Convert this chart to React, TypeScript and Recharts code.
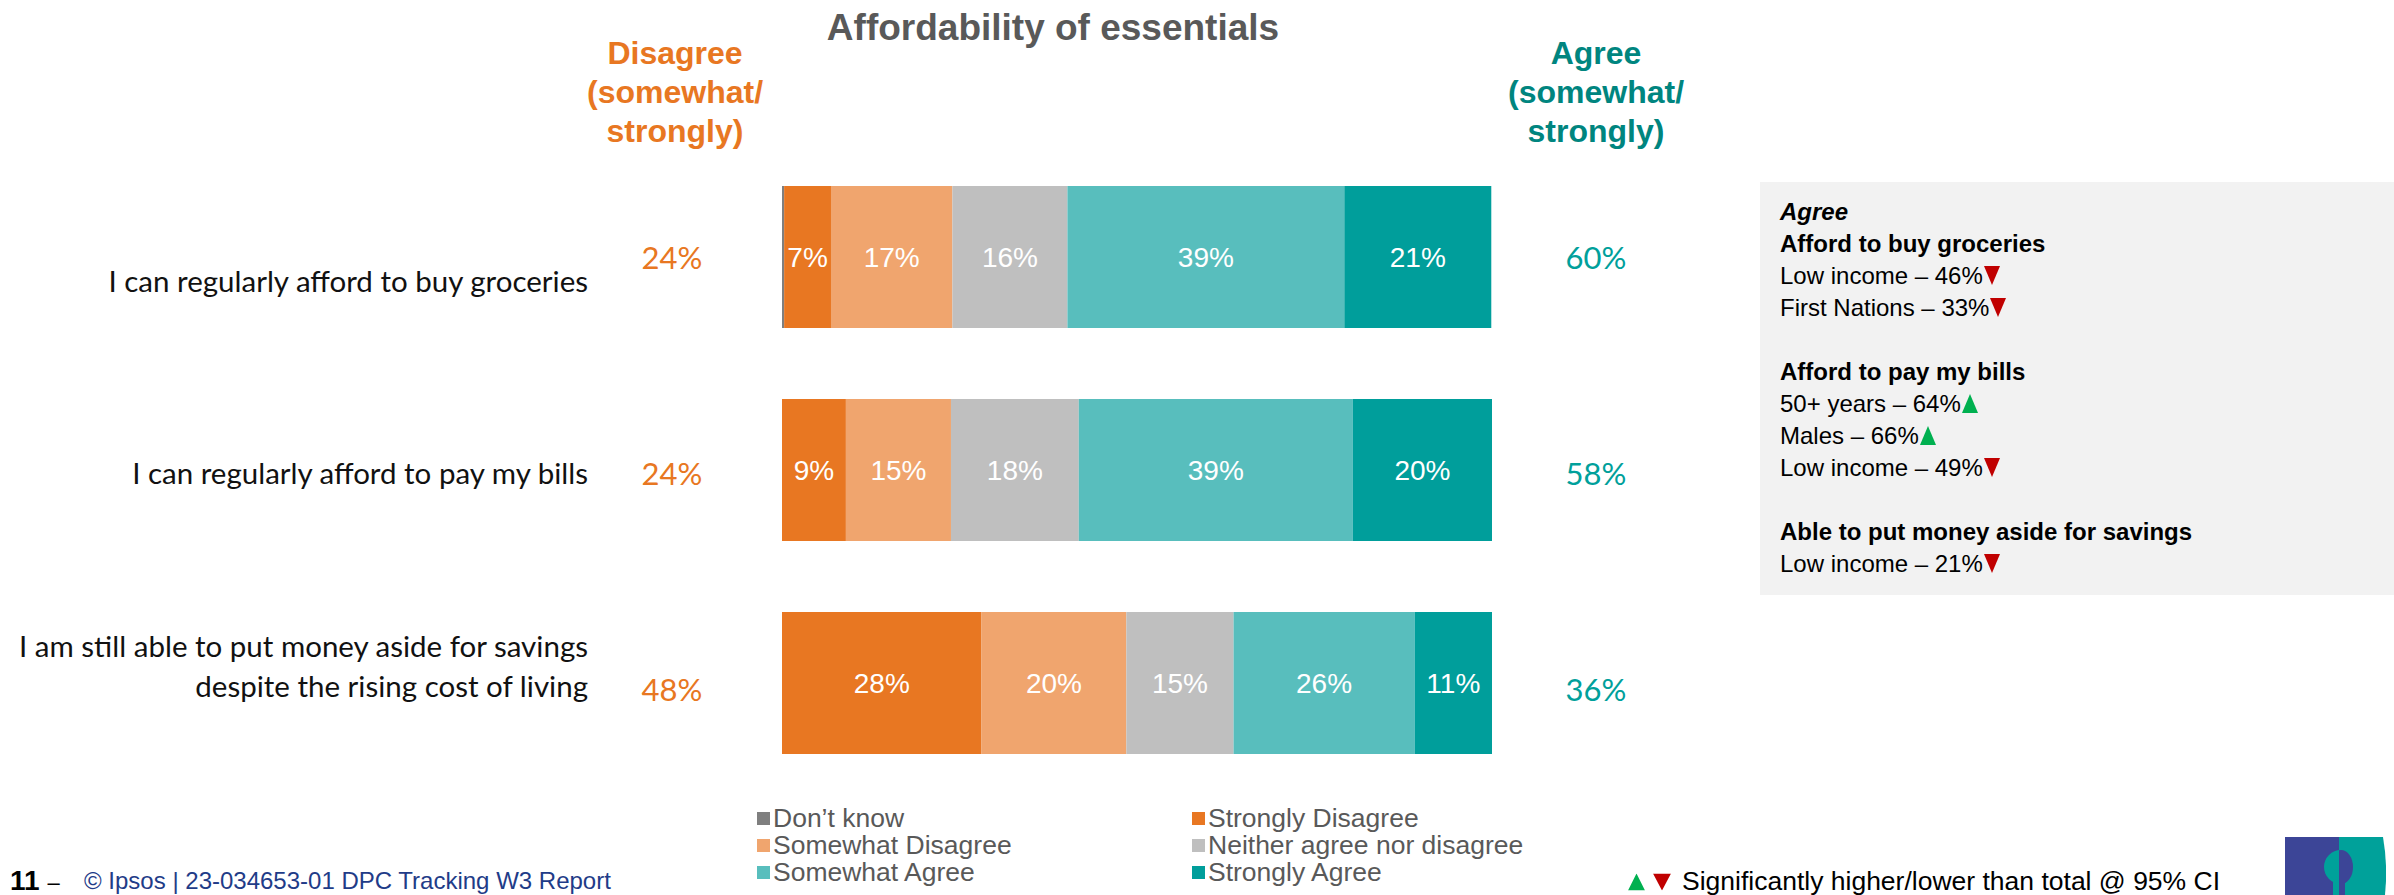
import { Bar, BarChart, LabelList, XAxis, YAxis } from "recharts";

// Statements (y categories), one line per array entry
const STATEMENTS: string[][] = [
  ["I can regularly afford to buy groceries"],
  ["I can regularly afford to pay my bills"],
  ["I am still able to put money aside for savings", "despite the rising cost of living"],
];

// Segment shares (%)
const DONT_KNOW = [0.3, 0, 0];
const STRONGLY_DISAGREE = [6.6, 9.0, 28.1];
const SOMEWHAT_DISAGREE = [17.1, 14.8, 20.4];
const NEITHER = [16.2, 18.0, 15.1];
const SOMEWHAT_AGREE = [39.0, 38.6, 25.5];
const STRONGLY_AGREE = [20.7, 19.6, 10.9];

// Nets as printed on the slide
const NET_DISAGREE = [24, 24, 48];
const NET_AGREE = [60, 58, 36];

const SERIES = [
  { key: "dk", name: "Don\u2019t know", color: "#7f7f7f", values: DONT_KNOW },
  { key: "sd", name: "Strongly Disagree", color: "#e87722", values: STRONGLY_DISAGREE },
  { key: "swd", name: "Somewhat Disagree", color: "#f0a56e", values: SOMEWHAT_DISAGREE },
  { key: "n", name: "Neither agree nor disagree", color: "#bfbfbf", values: NEITHER },
  { key: "swa", name: "Somewhat Agree", color: "#58bebd", values: SOMEWHAT_AGREE },
  { key: "sa", name: "Strongly Agree", color: "#009e9b", values: STRONGLY_AGREE },
];

type Sub = { label: string; value: number; dir: "up" | "down" };
const SUBGROUP_HEADS = ["Afford to buy groceries", "Afford to pay my bills", "Able to put money aside for savings"];
const SUBGROUPS: Sub[][] = [
  [
    { label: "Low income", value: 46, dir: "down" },
    { label: "First Nations", value: 33, dir: "down" },
  ],
  [
    { label: "50+ years", value: 64, dir: "up" },
    { label: "Males", value: 66, dir: "up" },
    { label: "Low income", value: 49, dir: "down" },
  ],
  [{ label: "Low income", value: 21, dir: "down" }],
];

const ORANGE = "#e87722";
const TEAL_DARK = "#00857f";
const TEAL = "#00a09b";
const UP = "#00b050";
const DOWN = "#c00000";
const NAVY = "#3c4597";
const ARIAL = "'Liberation Sans', Arial, sans-serif";
const CALIBRI = "Lato, 'Open Sans', sans-serif";

const data = STATEMENTS.map((_, i) => {
  const row: Record<string, number | string> = { key: `q${i}` };
  for (const s of SERIES) row[s.key] = s.values[i];
  return row;
});

// per-row vertical nudges of the side texts (slide text boxes are not centred)
const LABEL_DY = [23, 2, -38];
const NET_DY = [0, 3, 6];

function StatementTick(props: any) {
  const { y, payload } = props;
  const i = data.findIndex((d) => d.key === payload.value);
  if (i < 0) return null;
  const lines = STATEMENTS[i];
  return (
    <g>
      <text
        x={588}
        y={y + LABEL_DY[i]}
        textAnchor="end"
        dominantBaseline="central"
        fontFamily={CALIBRI}
        fontSize={29.5}
        fill="#111"
      >
        {lines.map((l, j) => (
          <tspan key={j} x={588} dy={j === 0 ? 0 : 40}>
            {l}
          </tspan>
        ))}
      </text>
      <text
        x={672}
        y={y + NET_DY[i]}
        textAnchor="middle"
        dominantBaseline="central"
        fontFamily={CALIBRI}
        fontSize={31}
        fill={ORANGE}
      >
        {NET_DISAGREE[i]}%
      </text>
      <text
        x={1596}
        y={y + NET_DY[i]}
        textAnchor="middle"
        dominantBaseline="central"
        fontFamily={CALIBRI}
        fontSize={31}
        fill={TEAL}
      >
        {NET_AGREE[i]}%
      </text>
    </g>
  );
}

function SegmentLabel(props: any) {
  const { x, y, width, height, value } = props;
  if (value == null || value < 2) return null;
  return (
    <text
      x={x + width / 2}
      y={y + height / 2}
      textAnchor="middle"
      dominantBaseline="central"
      fontFamily={ARIAL}
      fontSize={28}
      fill="#fff"
    >
      {Math.round(value)}%
    </text>
  );
}

function Tri({ dir, w = 15, h = 18 }: { dir: "up" | "down"; w?: number; h?: number }) {
  return (
    <svg width={w} height={h} style={{ display: "inline-block", verticalAlign: "-1px", marginLeft: 1 }}>
      {dir === "up" ? (
        <polygon points={`0,${h} ${w},${h} ${w / 2},0`} fill={UP} />
      ) : (
        <polygon points={`0,0 ${w},0 ${w / 2},${h}`} fill={DOWN} />
      )}
    </svg>
  );
}

const abs = (left: number, top: number, extra: React.CSSProperties = {}): React.CSSProperties => ({
  position: "absolute",
  left,
  top,
  whiteSpace: "nowrap",
  ...extra,
});

export default function App() {
  return (
    <div
      style={{
        position: "absolute",
        left: 0,
        top: 0,
        width: 2394,
        height: 895,
        overflow: "hidden",
        background: "#fff",
        fontFamily: ARIAL,
      }}
    >
      {/* title + net headers */}
      <div style={abs(1053, 28, { transform: "translate(-50%,-50%)", fontSize: 37, fontWeight: 700, color: "#595959" })}>
        Affordability of essentials
      </div>
      <div
        style={abs(675, 92, {
          transform: "translate(-50%,-50%)",
          fontSize: 32,
          fontWeight: 700,
          lineHeight: "39px",
          color: ORANGE,
          textAlign: "center",
        })}
      >
        Disagree
        <br />
        (somewhat/
        <br />
        strongly)
      </div>
      <div
        style={abs(1596, 92, {
          transform: "translate(-50%,-50%)",
          fontSize: 32,
          fontWeight: 700,
          lineHeight: "39px",
          color: TEAL_DARK,
          textAlign: "center",
        })}
      >
        Agree
        <br />
        (somewhat/
        <br />
        strongly)
      </div>

      <div style={{ position: "absolute", left: 0, top: 0 }}>
        <BarChart
          width={2394}
          height={895}
          layout="vertical"
          data={data}
          margin={{ top: 150, right: 902, bottom: 106, left: 781 }}
        >
          <XAxis type="number" domain={[0, 100]} allowDataOverflow hide />
          <YAxis
            type="category"
            dataKey="key"
            width={1}
            axisLine={false}
            tickLine={false}
            tick={<StatementTick />}
            interval={0}
          />
          {SERIES.map((s) => (
            <Bar key={s.key} dataKey={s.key} name={s.name} stackId="all" fill={s.color} barSize={142} isAnimationActive={false}>
              <LabelList dataKey={s.key} content={<SegmentLabel />} />
            </Bar>
          ))}
        </BarChart>
      </div>

      {/* sub-group callout */}
      <div
        style={{
          position: "absolute",
          left: 1760,
          top: 182,
          width: 634,
          height: 413,
          background: "#f2f2f2",
          boxSizing: "border-box",
          padding: "14px 0 0 20px",
          fontSize: 24,
          lineHeight: "32px",
          color: "#000",
        }}
      >
        <div style={{ fontWeight: 700, fontStyle: "italic" }}>Agree</div>
        {SUBGROUP_HEADS.map((h, gi) => (
          <div key={h} style={{ marginBottom: gi < SUBGROUP_HEADS.length - 1 ? 32 : 0 }}>
            <div style={{ fontWeight: 700 }}>{h}</div>
            {SUBGROUPS[gi].map((s) => (
              <div key={s.label}>
                {s.label} – {s.value}%
                <Tri dir={s.dir} w={16} h={19} />
              </div>
            ))}
          </div>
        ))}
      </div>

      {/* legend */}
      <div
        style={{
          position: "absolute",
          left: 757,
          top: 805,
          display: "grid",
          gridTemplateColumns: "435px 420px",
          fontSize: 26.5,
          lineHeight: "27px",
          color: "#595959",
        }}
      >
        {SERIES.map((s) => (
          <div key={s.key} style={{ display: "flex", alignItems: "center", whiteSpace: "nowrap" }}>
            <span style={{ display: "inline-block", width: 13, height: 13, background: s.color, marginRight: 3 }} />
            {s.name}
          </div>
        ))}
      </div>

      {/* footer */}
      <div style={abs(10, 881, { transform: "translateY(-50%)", fontSize: 28, fontWeight: 700, color: "#000" })}>
        11 <span style={{ fontWeight: 400, fontSize: 22 }}>–</span>
      </div>
      <div style={abs(84, 881, { transform: "translateY(-50%)", fontSize: 24, color: "#1f3c88" })}>
        © Ipsos | 23-034653-01 DPC Tracking W3 Report
      </div>
      <div style={abs(1627, 881, { transform: "translateY(-50%)", fontSize: 26.5, color: "#000" })}>
        <Tri dir="up" w={17} h={17} />
        <span style={{ display: "inline-block", width: 7 }} />
        <Tri dir="down" w={18} h={17} />
        <span style={{ marginLeft: 11 }}>Significantly higher/lower than total @ 95% CI</span>
      </div>

      {/* logo block */}
      <svg style={{ position: "absolute", left: 2285, top: 837 }} width={109} height={58}>
        <rect x={0} y={0} width={54} height={58} fill={NAVY} />
        <path d="M54,0 H98 Q103,29 100,58 H54 Z" fill="#00a19a" />
        <clipPath id="lhalf">
          <rect x={0} y={0} width={54} height={58} />
        </clipPath>
        <clipPath id="rhalf">
          <rect x={54} y={0} width={55} height={58} />
        </clipPath>
        <g clipPath="url(#lhalf)" fill="#00a19a">
          <circle cx={56} cy={30} r={17} />
          <rect x={48} y={40} width={14} height={18} />
        </g>
        <g clipPath="url(#rhalf)" fill={NAVY}>
          <ellipse cx={56} cy={30} rx={12} ry={17} />
          <rect x={48} y={40} width={12} height={18} />
        </g>
      </svg>
    </div>
  );
}
